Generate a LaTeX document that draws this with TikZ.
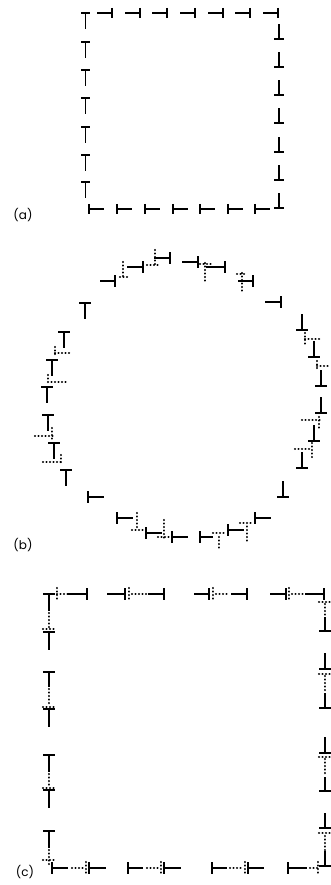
\documentclass[tikz,border=0pt]{standalone}
\usepackage{fontspec}
\setmainfont{Poppins}
\begin{document}
\begin{tikzpicture}[x=1pt,y=-1pt,
  glyph/.style={line width=1.9pt},
  trace/.style={line width=2.1pt,line cap=round,dash pattern=on 0.2pt off 3.3pt},
  hb/.store in=\glyphhb, sl/.store in=\glyphsl, hb=5, sl=15,
  % edge dislocation symbols: bar at the given point, stem of length sl
  pics/dT/.style={code={\draw[glyph] (-\glyphhb,0)--(\glyphhb,0) (0,0)--(0,\glyphsl);}},
  pics/dB/.style={code={\draw[glyph] (-\glyphhb,0)--(\glyphhb,0) (0,0)--(0,-\glyphsl);}},
  pics/dR/.style={code={\draw[glyph] (0,-\glyphhb)--(0,\glyphhb) (0,0)--(-\glyphsl,0);}},
  pics/dL/.style={code={\draw[glyph] (0,-\glyphhb)--(0,\glyphhb) (0,0)--(\glyphsl,0);}},
  lab/.style={font=\fontsize{12}{14}\selectfont,inner sep=0pt}
]
\useasboundingbox (0,0) rectangle (331,885);

% ---------- (a) square loop ----------
\begin{scope}[hb=4.5,sl=16]
  \foreach \y in {13,42,70,98,127,155,182} \pic at (85.5,\y) {dT};
\end{scope}
\begin{scope}[hb=5,sl=15]
  \foreach \x in {112,140,167,195,223,250,278} \pic at (\x,13) {dR};
  \foreach \y in {39,67,95,123,152,180,208} \pic at (279,\y) {dB};
  \foreach \x in {89,117,145,173,200,228,255} \pic at (\x,209) {dL};
\end{scope}
\node[lab] (la) at (23,215) {(a)};

% ---------- (b) circular loop ----------
\begin{scope}[hb=6,sl=16]
  % top
  \pic[sl=15] at (115,281) {dR};
  \pic at (143,267) {dR};
  \pic at (170,258) {dR};
  \pic at (198,262) {dR};
  \pic[sl=19] at (225,267) {dR};
  \pic[sl=15] at (253,281) {dR};
  \pic at (281,302) {dR};
  % right
  \pic at (302,330) {dB};
  \pic at (314,357) {dB};
  \pic at (321,386) {dB};
  \pic at (321,413) {dB};
  \pic at (314,441) {dB};
  \pic at (302,468) {dB};
  \pic at (283,497) {dB};
  % bottom
  \pic at (117,518) {dL};
  \pic at (146,533) {dL};
  \pic at (172,537) {dL};
  \pic[sl=13] at (200,537) {dL};
  \pic at (228,530) {dL};
  \pic at (255,518) {dL};
  \pic at (88,497) {dL};
  % left
  \pic at (85,303) {dT};
  \pic at (64,332) {dT};
  \pic at (52,360) {dT};
  \pic at (47,387) {dT};
  \pic at (48,415) {dT};
  \pic at (54,443) {dT};
  \pic at (66,470) {dT};
\end{scope}
% slip traces
\draw[trace] (123,262)--(123,277) (120,277)--(130,277);
\draw[trace] (155,250)--(155,264) (147,265)--(158,265);
\draw[trace] (205,263)--(205,282) (200,264)--(212,264);
\draw[trace] (237,274)--(247,274) (242,273)--(242,293);
\draw[trace] (305,333)--(305,345) (305,339)--(322,339);
\draw[trace] (317,361)--(317,371) (317,366)--(328,366);
\draw[trace] (302,420)--(320,420) (319,417)--(319,428);
\draw[trace] (295,449)--(311,449) (312,443)--(312,457);
\draw[trace] (240,523)--(253,523) (247,523)--(247,542);
\draw[trace] (213,533)--(225,533) (219,537)--(219,550);
\draw[trace] (137,513)--(137,530) (132,530)--(143,530);
\draw[trace] (164,520)--(164,538) (158,537)--(169,537);
\draw[trace] (55,347)--(55,357) (55,353)--(72,353);
\draw[trace] (48,375)--(48,383) (48,382)--(67,382);
\draw[trace] (35,436)--(53,436) (52,428)--(52,440);
\draw[trace] (43,462)--(62,462) (61,455)--(61,465);
\node[lab] (lb) at (23,545) {(b)};

% ---------- (c) square loop after glide ----------
\begin{scope}[hb=6]
  % left column
  \pic[sl=17] at (49,594) {dT};
  \pic[sl=18] at (49,632) {dT};
  \pic[sl=15] at (49,672) {dT};
  \pic[sl=18] at (49,709) {dT};
  \pic[sl=17] at (49,755) {dT};
  \pic[sl=18] at (49,790) {dT};
  \pic[sl=17] at (49,831) {dT};
  % bottom row
  \pic[sl=16] at (52,868) {dL};
  \pic[sl=17] at (89,868) {dL};
  \pic[sl=15] at (128,868) {dL};
  \pic[sl=17] at (164,868) {dL};
  \pic[sl=15] at (212,868) {dL};
  \pic[sl=16] at (248,868) {dL};
  \pic[sl=19] at (288,868) {dL};
  % right column
  \pic[sl=15] at (325,866) {dB};
  \pic[sl=15] at (325,828) {dB};
  \pic[sl=14] at (325,791) {dB};
  \pic[sl=16] at (325,753) {dB};
  \pic[sl=15] at (325,708) {dB};
  \pic[sl=16] at (325,669) {dB};
  \pic[sl=14] at (325,631) {dB};
  % top row
  \pic[sl=19] at (87,594) {dR};
  \pic[sl=18] at (125,594) {dR};
  \pic[sl=16] at (164,594) {dR};
  \pic[sl=15] at (209,594) {dR};
  \pic[sl=16] at (247,594) {dR};
  \pic[sl=16] at (286,594) {dR};
  \pic[sl=19] at (324,594) {dR};
\end{scope}
% ghost positions
\draw[trace] (49,613)--(49,627) (43,629)--(55,629);
\draw[trace] (49,689)--(49,705) (43,707)--(55,707);
\draw[trace] (49,774)--(49,787) (43,788)--(55,788);
\draw[trace] (49,850)--(49,864) (43,860)--(55,860);
\draw[trace] (72,868)--(83,868) (86,862)--(86,875);
\draw[trace] (147,868)--(158,868) (161,862)--(161,875);
\draw[trace] (230,868)--(242,868) (245,862)--(245,875);
\draw[trace] (310,868)--(317,868) (318,862)--(318,875);
\draw[trace] (325,836)--(325,850) (319,833)--(331,833);
\draw[trace] (325,759)--(325,776) (319,757)--(331,757);
\draw[trace] (325,676)--(325,692) (319,674)--(331,674);
\draw[trace] (325,604)--(325,616) (319,602)--(331,602);
\draw[trace] (57,588)--(57,601) (57,594)--(68,594);
\draw[trace] (129,588)--(129,601) (132,594)--(147,594);
\draw[trace] (213,588)--(213,601) (216,594)--(227,594);
\draw[trace] (289,588)--(289,601) (292,594)--(303,594);
\node[lab] (lc) at (25,872) {(c)};
\end{tikzpicture}
\end{document}
